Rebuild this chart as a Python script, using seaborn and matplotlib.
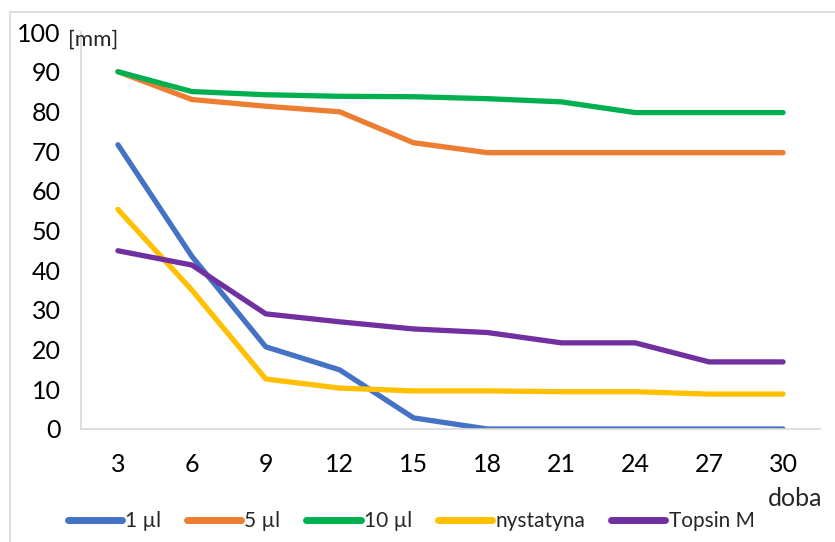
import matplotlib
matplotlib.use('Agg')
import matplotlib.pyplot as plt
import seaborn as sns
import pandas as pd

sns.set_theme(style="white")
plt.rcParams['font.family'] = ['Lato', 'DejaVu Sans']

days = [3, 6, 9, 12, 15, 18, 21, 24, 27, 30]
ul1 = [71.6, 43.5, 20.7, 14.9, 2.8, 0, 0, 0, 0, 0]
ul5 = [90, 83, 81.3, 79.9, 72.1, 69.6, 69.6, 69.6, 69.6, 69.6]
ul10 = [90, 85, 84.2, 83.8, 83.7, 83.2, 82.4, 79.7, 79.7, 79.7]
nystatyna = [55.3, 35.0, 12.6, 10.3, 9.6, 9.6, 9.4, 9.4, 8.8, 8.8]
topsin = [44.9, 41.3, 29.0, 27.0, 25.2, 24.3, 21.7, 21.7, 16.9, 16.9]

names = ['1 µl', '5 µl', '10 µl', 'nystatyna', 'Topsin M']
series = [ul1, ul5, ul10, nystatyna, topsin]
colors = ['#4472C4', '#ED7D31', '#00B050', '#FFC000', '#7030A0']

rows = []
for name, vals in zip(names, series):
    for d, v in zip(days, vals):
        rows.append({'doba': d, 'mm': v, 'grupa': name})
df = pd.DataFrame(rows)

fig = plt.figure(figsize=(8.35, 5.42), dpi=100)
ax = fig.add_axes([81/835, 1-429/542, (820-81)/835, (429-32)/542])

sns.lineplot(data=df, x='doba', y='mm', hue='grupa', hue_order=names,
             palette=colors, linewidth=3.8, ax=ax, legend=False,
             solid_capstyle='round', solid_joinstyle='round')

ax.set_xlim(1.5, 31.5)
ax.set_ylim(0, 100)
ax.set_xticks(days)
ax.set_yticks(range(0, 101, 10))
ax.set_xlabel('')
ax.set_ylabel('')
for s in ['top', 'right']:
    ax.spines[s].set_visible(False)
ax.spines['left'].set_color('#d9d9d9')
ax.spines['bottom'].set_color('#d9d9d9')
ax.spines['left'].set_linewidth(1.2)
ax.spines['bottom'].set_linewidth(1.2)
ax.tick_params(axis='y', direction='inout', length=13, color='#d9d9d9',
               width=1.2, labelsize=18, labelcolor='black', pad=8)
ax.tick_params(axis='x', length=0, labelsize=18, labelcolor='black', pad=17)
ax.set_zorder(1)

fig.text(68/835, 1-40/542, '[mm]', fontsize=16, va='center', ha='left')
fig.text(822/835, 1-498/542, 'doba', fontsize=18, va='center', ha='right')

# figure border
fig.patches.append(plt.Rectangle((10/835, -0.1), 1.1, 1-12/542+0.1,
                                 transform=fig.transFigure, fill=False,
                                 edgecolor='#d9d9d9', linewidth=1.2))

handles = [plt.Line2D([], [], color=c, linewidth=5, solid_capstyle='round')
           for c in colors]
fig.legend(handles, names, loc='center', bbox_to_anchor=(411/835, 1-521/542),
           ncol=5, frameon=False, fontsize=15, handlelength=2.6,
           handletextpad=0.15, columnspacing=1.25, borderaxespad=0)

plt.savefig('out.png', dpi=100)
